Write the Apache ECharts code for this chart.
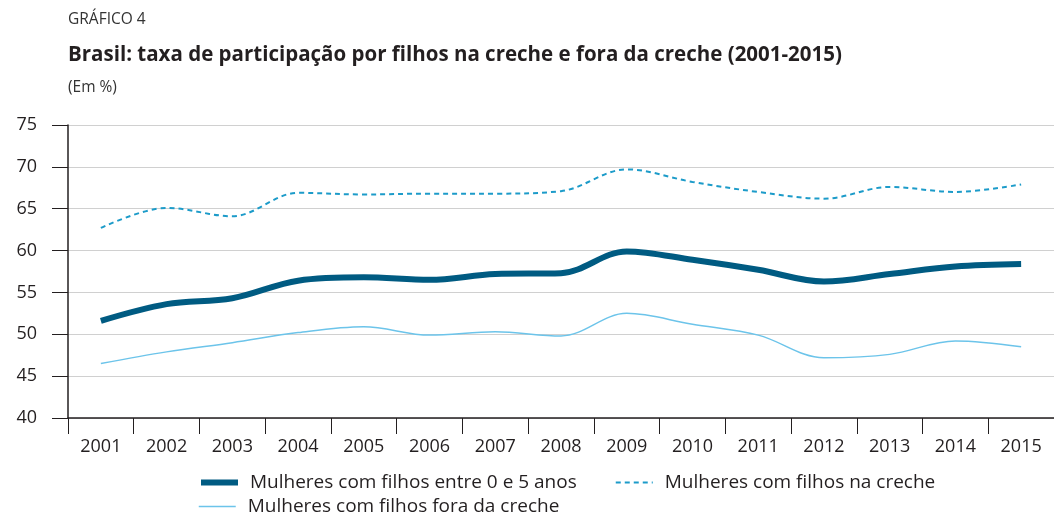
<!DOCTYPE html>
<html>
<head>
<meta charset="utf-8">
<script src="https://cdn.jsdelivr.net/npm/echarts@6/dist/echarts.min.js"></script>
<style>
  html, body { margin: 0; padding: 0; background: #fff; }
  #chart { width: 1054px; height: 515px; }
</style>
</head>
<body>
<div id="chart"></div>
<script>
const years = ['2001', '2002', '2003', '2004', '2005', '2006', '2007', '2008',
    '2009', '2010', '2011', '2012', '2013', '2014', '2015'];
const totalValues = [51.6, 53.6, 54.3, 56.4, 56.8, 56.5, 57.2, 57.3, 59.9, 58.9, 57.7, 56.3, 57.2, 58.1, 58.4];
const crecheValues = [62.7, 65.1, 64.1, 66.9, 66.7, 66.8, 66.8, 67.1, 69.7, 68.2, 67.0, 66.2, 67.6, 67.0, 67.9];
const foraValues = [46.5, 47.9, 49.0, 50.2, 50.9, 49.9, 50.3, 49.8, 52.5, 51.2, 49.9, 47.2, 47.6, 49.2, 48.5];

const names = [
    'Mulheres com filhos entre 0 e 5 anos',
    'Mulheres com filhos na creche',
    'Mulheres com filhos fora da creche'
];

const font = '"Open Sans", "Noto Sans", sans-serif';
const textColor = '#231f20';

const chart = echarts.init(document.getElementById('chart'));

const legendText = { fontSize: 19, color: textColor, fontFamily: font, padding: [0, 0, 0, 7] };

const option = {
    animation: false,
    textStyle: { fontFamily: font, color: textColor },
    graphic: [
        {
            type: 'text', x: 68, y: 20,
            style: { text: 'GRÁFICO 4', font: '15.5px ' + font, fill: '#333', verticalAlign: 'middle' }
        },
        {
            type: 'text', x: 68, y: 55,
            style: {
                text: 'Brasil: taxa de participação por filhos na creche e fora da creche (2001-2015)',
                font: 'bold 20.5px ' + font, fill: textColor, verticalAlign: 'middle'
            }
        },
        {
            type: 'text', x: 68, y: 88,
            style: { text: '(Em %)', font: '15.5px ' + font, fill: '#333', verticalAlign: 'middle' }
        }
    ],
    grid: { left: 68, right: -8, top: 125, bottom: 97, containLabel: false },
    legend: [
        {
            left: 193, top: 468, itemWidth: 37, itemHeight: 20, itemGap: 38,
            itemStyle: { opacity: 0 },
            textStyle: legendText,
            data: [
                { name: names[0], lineStyle: { width: 6 } },
                { name: names[1], lineStyle: { width: 2 } }
            ]
        },
        {
            left: 193, top: 492, itemWidth: 37, itemHeight: 20,
            itemStyle: { opacity: 0 },
            textStyle: legendText,
            data: [{ name: names[2], lineStyle: { width: 1.5 } }]
        }
    ],
    xAxis: {
        type: 'category',
        data: years,
        boundaryGap: true,
        axisLine: { lineStyle: { color: '#231f20', width: 1.5 } },
        axisTick: { show: true, length: 16, lineStyle: { color: '#231f20' } },
        axisLabel: { fontSize: 18, color: textColor, margin: 20 }
    },
    yAxis: {
        type: 'value',
        min: 40,
        max: 75,
        interval: 5,
        axisLine: { show: true, lineStyle: { color: '#231f20', width: 1.5 } },
        axisTick: { show: true, length: 16, lineStyle: { color: '#231f20' } },
        axisLabel: { fontSize: 18, color: textColor, margin: 31 },
        splitLine: { lineStyle: { color: '#d0d0d0', width: 1.2 } }
    },
    series: [
        {
            name: names[0], type: 'line', data: totalValues,
            smooth: 0.35, symbol: 'none',
            lineStyle: { color: '#005b82', width: 6 },
            itemStyle: { color: '#005b82' }
        },
        {
            name: names[1], type: 'line', data: crecheValues,
            smooth: 0.35, symbol: 'none',
            lineStyle: { color: '#1c9bc9', width: 2, type: [5, 4] },
            itemStyle: { color: '#1c9bc9' }
        },
        {
            name: names[2], type: 'line', data: foraValues,
            smooth: 0.35, symbol: 'none',
            lineStyle: { color: '#6cc4ea', width: 1.5 },
            itemStyle: { color: '#6cc4ea' }
        }
    ]
};

chart.setOption(option);
</script>
</body>
</html>
